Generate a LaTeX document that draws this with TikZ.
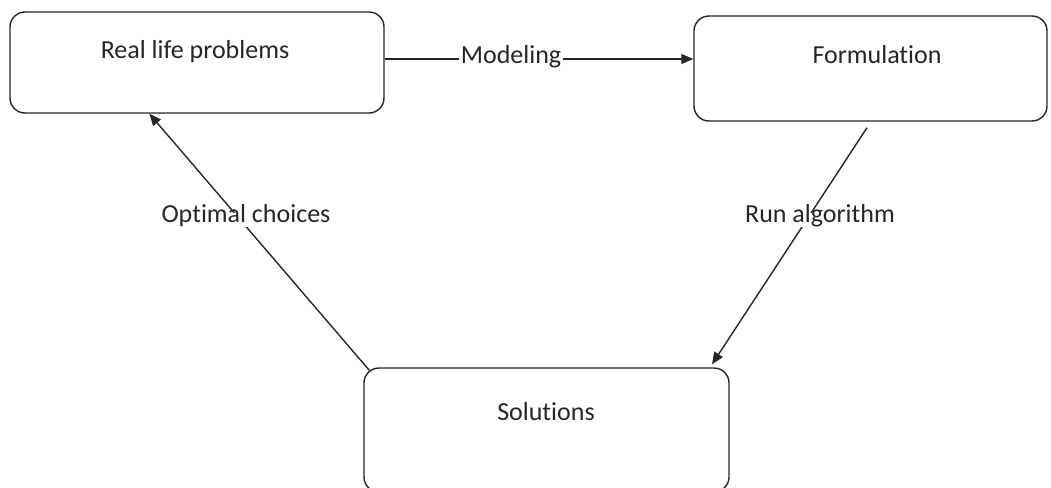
\documentclass[tikz,border=0pt]{standalone}
\usepackage{fontspec}
\setmainfont{Carlito}[Ligatures=NoCommon]
\usetikzlibrary{arrows.meta}
\definecolor{ink}{HTML}{262626}
\tikzset{
  box/.style={draw=ink, line width=1.4pt, rounded corners=15pt, inner sep=0pt},
  txt/.style={font=\fontsize{26}{31}\selectfont, text=ink, text height=0.72em, text depth=0.24em, inner sep=0pt},
  lbl/.style={txt, fill=white, inner xsep=2pt, inner ysep=2pt},
  conn/.style={draw=ink, line width=1.4pt, -{Triangle[length=12pt,width=10pt]}},
}
\begin{document}
\begin{tikzpicture}[x=1pt,y=-1pt]
\useasboundingbox (0,0) rectangle (1051,487);
% boxes
\node[box, minimum width=374pt, minimum height=101pt] (A) at (197,62.5) {};
\node[box, minimum width=353pt, minimum height=105pt] (B) at (870.5,68.5) {};
\node[box, minimum width=365pt, minimum height=124pt] (C) at (546.5,430) {};
% box texts
\node[txt] (At) at (195,56.5) {Real life problems};
\node[txt] (Bt) at (877,61) {Formulation};
\node[txt] (Ct) at (546,418.5) {Solutions};
% connector end points
\coordinate (a1) at ([yshift=3.5pt]A.east);
\coordinate (b1) at (a1 -| B.west);
\coordinate (b2) at ([xshift=-3.5pt,yshift=-6pt]B.south);
\coordinate (c2) at ([xshift=165.5pt,yshift=3pt]C.north);
\coordinate (c3) at ([xshift=6pt,yshift=-3pt]C.north west);
\coordinate (a3) at ([xshift=140pt]A.south west);
% connectors
\draw[conn] (a1) -- (b1);
\draw[conn] (b2) -- (c2);
\draw[conn] (c3) -- (a3);
% labels
\node[lbl] (Lm) at (511,61) {Modeling};
\node[lbl] (Lr) at (820,220) {Run algorithm};
\node[lbl] (Lo) at (246,220) {Optimal choices};
\end{tikzpicture}
\end{document}
